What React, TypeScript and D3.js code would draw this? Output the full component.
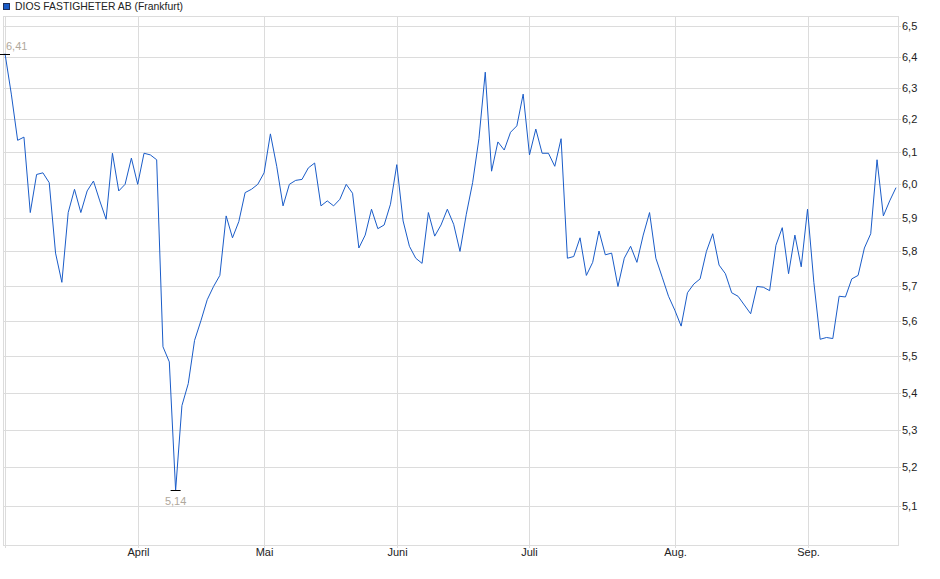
import { useEffect, useRef } from 'react';
import * as d3 from 'd3';

// Daily closing prices (EUR), trading days from early March to mid September
const PRICES = [
  6.41, 6.28, 6.135, 6.145, 5.915, 6.03, 6.035, 6.005, 5.795, 5.71,
  5.915, 5.985, 5.915, 5.98, 6.01, 5.95, 5.895, 6.095, 5.98, 6.0,
  6.08, 6.0, 6.095, 6.09, 6.075, 5.527, 5.485, 5.14, 5.365, 5.425,
  5.545, 5.6, 5.66, 5.698, 5.73, 5.905, 5.84, 5.888, 5.975, 5.985,
  6.0, 6.035, 6.155, 6.055, 5.935, 6.0, 6.012, 6.015, 6.05, 6.065,
  5.935, 5.95, 5.935, 5.955, 6.0, 5.973, 5.81, 5.848, 5.925, 5.867,
  5.878, 5.94, 6.06, 5.89, 5.815, 5.78, 5.765, 5.915, 5.845, 5.878,
  5.925, 5.88, 5.8, 5.91, 6.005, 6.14, 6.35, 6.04, 6.13, 6.105,
  6.16, 6.18, 6.28, 6.09, 6.17, 6.095, 6.095, 6.055, 6.14, 5.78,
  5.785, 5.84, 5.73, 5.768, 5.86, 5.79, 5.795, 5.698, 5.78, 5.815,
  5.768, 5.848, 5.915, 5.78, 5.725, 5.67, 5.63, 5.585, 5.68, 5.705,
  5.72, 5.8, 5.852, 5.76, 5.735, 5.68, 5.67, 5.645, 5.62, 5.698,
  5.696, 5.686, 5.818, 5.87, 5.735, 5.848, 5.755, 5.925, 5.71, 5.548,
  5.553, 5.55, 5.67, 5.668, 5.72, 5.73, 5.81, 5.852, 6.075, 5.905,
  5.95, 5.99,
];

// first trading day of each month (index into PRICES)
const MONTH_LABELS = ['', 'April', 'Mai', 'Juni', 'Juli', 'Aug.', 'Sep.'];
const MONTH_START = [0, 21, 41, 62, 83, 106, 127];

const Y_TICKS = [5.1, 5.2, 5.3, 5.4, 5.5, 5.6, 5.7, 5.8, 5.9, 6.0, 6.1, 6.2, 6.3, 6.4, 6.5];

const TITLE = 'DIOS FASTIGHETER AB (Frankfurt)';

const WIDTH = 940;
const HEIGHT = 579;
const FRAME = { left: 3, right: 898, top: 16, bottom: 545 };
const FONT = 'Arial, "Liberation Sans", sans-serif';
const LINE_COLOR = '#1a5cc8';
const GRID_COLOR = '#dcdcdc';

export default function App() {
  const svgRef = useRef<SVGSVGElement>(null);

  useEffect(() => {
    document.body.style.margin = '0';
    if (!svgRef.current) return;
    const svg = d3.select(svgRef.current);
    svg.selectAll('*').remove();

    const x = d3.scaleLinear().domain([0, PRICES.length - 1]).range([5, 896]);
    const y = d3.scaleLog().domain([5.0, 6.5]).range([FRAME.bottom, 26]);
    const fmt = (v: number) => d3.format('.2f')(v).replace('.', ',');

    svg.append('rect').attr('width', WIDTH).attr('height', HEIGHT).attr('fill', '#ffffff');

    // horizontal grid + right-hand tick labels
    Y_TICKS.forEach(t => {
      const yy = Math.round(y(t)) + 0.5;
      svg
        .append('line')
        .attr('x1', FRAME.left)
        .attr('x2', FRAME.right + 3)
        .attr('y1', yy)
        .attr('y2', yy)
        .attr('stroke', GRID_COLOR)
        .attr('stroke-width', 1);
      svg
        .append('text')
        .attr('x', 902)
        .attr('y', yy)
        .attr('dy', '0.35em')
        .attr('font-family', FONT)
        .attr('font-size', '11px')
        .attr('fill', '#222')
        .text(d3.format('.1f')(t).replace('.', ','));
    });

    // vertical month grid + labels
    MONTH_START.forEach((idx, k) => {
      const xx = Math.round(x(idx)) + 0.5;
      svg
        .append('line')
        .attr('x1', xx)
        .attr('x2', xx)
        .attr('y1', FRAME.top)
        .attr('y2', FRAME.bottom + 3)
        .attr('stroke', GRID_COLOR)
        .attr('stroke-width', 1);
      if (MONTH_LABELS[k]) {
        svg
          .append('text')
          .attr('x', xx)
          .attr('y', 556)
          .attr('text-anchor', 'middle')
          .attr('font-family', FONT)
          .attr('font-size', '11px')
          .attr('fill', '#222')
          .text(MONTH_LABELS[k]);
      }
    });

    // frame
    svg
      .append('rect')
      .attr('x', FRAME.left + 0.5)
      .attr('y', FRAME.top + 0.5)
      .attr('width', FRAME.right - FRAME.left)
      .attr('height', FRAME.bottom - FRAME.top)
      .attr('fill', 'none')
      .attr('stroke', GRID_COLOR)
      .attr('stroke-width', 1);

    // price line
    const line = d3
      .line<number>()
      .x((_d, i) => x(i))
      .y(d => y(d));
    svg
      .append('path')
      .datum(PRICES)
      .attr('d', line)
      .attr('fill', 'none')
      .attr('stroke', LINE_COLOR)
      .attr('stroke-width', 1);

    // high / low markers
    const hiIdx = d3.maxIndex(PRICES);
    const loIdx = d3.minIndex(PRICES);
    [hiIdx, loIdx].forEach(idx => {
      const px = x(idx);
      const py = Math.round(y(PRICES[idx])) + 0.5;
      svg
        .append('line')
        .attr('x1', Math.max(0, px - 5))
        .attr('x2', px + 5)
        .attr('y1', py)
        .attr('y2', py)
        .attr('stroke', '#000')
        .attr('stroke-width', 1);
      const isHi = idx === hiIdx;
      svg
        .append('text')
        .attr('x', isHi ? px + 1 : px)
        .attr('y', isHi ? py - 5 : py + 14)
        .attr('text-anchor', isHi ? 'start' : 'middle')
        .attr('font-family', FONT)
        .attr('font-size', '11px')
        .attr('fill', '#b0a89c')
        .text(fmt(PRICES[idx]));
    });

    // legend
    svg
      .append('rect')
      .attr('x', 3.5)
      .attr('y', 3.5)
      .attr('width', 6)
      .attr('height', 6)
      .attr('fill', LINE_COLOR)
      .attr('stroke', '#1f2f5a')
      .attr('stroke-width', 1);
    svg
      .append('text')
      .attr('x', 15)
      .attr('y', 10)
      .attr('font-family', FONT)
      .attr('font-size', '10.4px')
      .attr('fill', '#222')
      .text(TITLE);
  }, []);

  return (
    <svg
      ref={svgRef}
      width={WIDTH}
      height={HEIGHT}
      style={{ display: 'block', position: 'absolute', left: 0, top: 0 }}
    />
  );
}
